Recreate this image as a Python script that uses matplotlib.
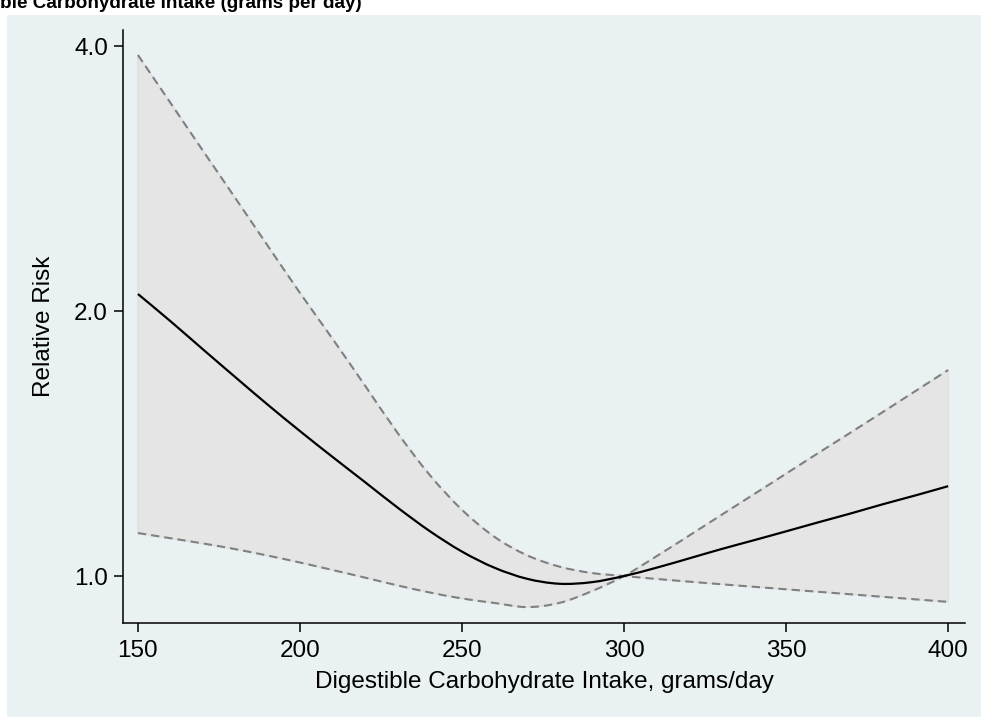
import matplotlib
matplotlib.use("Agg")
import numpy as np
import matplotlib.pyplot as plt
from matplotlib.patches import Rectangle, PathPatch
from matplotlib.path import Path
from matplotlib.ticker import FixedLocator, FixedFormatter, NullLocator

plt.rcParams['font.family'] = ['Liberation Sans', 'DejaVu Sans']

# ---- data ----
carb = [150, 160, 170, 180, 190, 200, 210, 220, 230, 240, 250, 260, 270, 280,
        290, 300, 310, 320, 330, 340, 350, 360, 370, 380, 390, 400]
rr = [2.091, 1.948, 1.810, 1.683, 1.566, 1.461, 1.366, 1.279, 1.197, 1.125,
      1.066, 1.022, 0.993, 0.980, 0.984, 1.000, 1.022, 1.047, 1.073, 1.098,
      1.124, 1.151, 1.178, 1.207, 1.235, 1.265]
ci_a = [3.907, 3.449, 3.044, 2.689, 2.374, 2.097, 1.861, 1.647, 1.456, 1.303,
        1.189, 1.108, 1.056, 1.025, 1.008, 1.000, 0.9924, 0.9855, 0.9787,
        0.9723, 0.9659, 0.9596, 0.9533, 0.9470, 0.9408, 0.9346]
ci_b = [1.119, 1.104, 1.089, 1.073, 1.055, 1.036, 1.016, 0.996, 0.976, 0.958,
        0.943, 0.932, 0.922, 0.932, 0.961, 1.000, 1.053, 1.111, 1.173, 1.238,
        1.307, 1.380, 1.456, 1.537, 1.623, 1.714]

x_ticks = [150, 200, 250, 300, 350, 400]
y_ticks = [1.0, 2.0, 4.0]
y_tick_labels = ["1.0", "2.0", "4.0"]

title = "Digestible Carbohydrate Intake (grams per day)"
xlabel = "Digestible Carbohydrate Intake, grams/day"
ylabel = "Relative Risk"

W, H = 981, 717
bg = '#E9F1F3'
fs = 17.5


def smooth(xs, ys):
    """Smooth Bezier path through the data points, computed in
    (x, log y) space to match the log axis."""
    X = np.asarray(xs, float)
    Y = np.asarray(ys, float)
    L = np.log(Y)
    n = len(X)
    verts = [(X[0], Y[0])]
    codes = [Path.MOVETO]
    for i in range(n - 1):
        p0 = i - 1 if i > 0 else i
        p3 = i + 2 if i + 2 < n else i + 1
        c1x = X[i] + (X[i + 1] - X[p0]) / 6
        c1l = L[i] + (L[i + 1] - L[p0]) / 6
        c2x = X[i + 1] - (X[p3] - X[i]) / 6
        c2l = L[i + 1] - (L[p3] - L[i]) / 6
        verts += [(c1x, np.exp(c1l)), (c2x, np.exp(c2l)), (X[i + 1], Y[i + 1])]
        codes += [Path.CURVE4] * 3
    return verts, codes


fig = plt.figure(figsize=(W / 100, H / 100), dpi=100, facecolor=bg)
# white strips at the top and left edge of the image
fig.patches.append(Rectangle((-0.1, (H - 15) / H), 1.3, 0.2, transform=fig.transFigure,
                             facecolor='white', edgecolor='none', zorder=-10))
fig.patches.append(Rectangle((-0.1, -0.1), 0.1 + 7 / W, 1.3, transform=fig.transFigure,
                             facecolor='white', edgecolor='none', zorder=-10))

ax = fig.add_axes([123 / W, 94 / H, (965 - 123) / W, (687 - 94) / H])
ax.set_facecolor(bg)
ax.set_yscale('log')
ax.set_xlim(145.4, 405.2)
ax.set_ylim(0.8844, 4.171)

# band
va, ca = smooth(carb, ci_a)
vb, cb = smooth(carb[::-1], ci_b[::-1])
cb = [Path.LINETO] + cb[1:]
band = Path(va + vb + [va[0]], ca + cb + [Path.CLOSEPOLY])
ax.add_patch(PathPatch(band, facecolor='#E5E5E5', edgecolor='#E0E0E0',
                       linewidth=1.2, zorder=1))

# confidence limits (dashed) and estimate (solid)
for series in (ci_a, ci_b):
    v, c = smooth(carb, series)
    ax.add_patch(PathPatch(Path(v, c), fill=False, edgecolor='#808080',
                           linewidth=1.5, linestyle=(0, (4, 2.4)), zorder=2))
v, c = smooth(carb, rr)
ax.add_patch(PathPatch(Path(v, c), fill=False, edgecolor='black',
                       linewidth=1.6, zorder=3, capstyle='butt'))

ax.yaxis.set_major_locator(FixedLocator(y_ticks))
ax.yaxis.set_major_formatter(FixedFormatter(y_tick_labels))
ax.yaxis.set_minor_locator(NullLocator())
ax.set_xticks(x_ticks)
ax.set_xticklabels([str(v) for v in x_ticks])

for s in ['top', 'right']:
    ax.spines[s].set_visible(False)
for s in ['left', 'bottom']:
    ax.spines[s].set_linewidth(1.1)
    ax.spines[s].set_color('black')

ax.tick_params(axis='both', which='major', length=6.5, width=1.1, color='black',
               labelsize=fs, labelcolor='black')
ax.tick_params(axis='y', pad=4.3)
ax.tick_params(axis='x', pad=5.5)

ax.set_xlabel(xlabel, fontsize=fs, labelpad=7)
ax.set_ylabel(ylabel, fontsize=fs, labelpad=14)

# title, partly cut off at the top-left edge as in the reference
tfs = 13.6
t = fig.text(0, (H - 8) / H, title, fontsize=tfs, fontweight='bold',
             ha='left', va='baseline')
renderer = fig.canvas.get_renderer()
probe = fig.text(0, 0, "Digesti", fontsize=tfs, fontweight='bold')
w = probe.get_window_extent(renderer).width
probe.remove()
t.set_x(-w / W)

fig.savefig('out.png', dpi=100, facecolor=bg)
